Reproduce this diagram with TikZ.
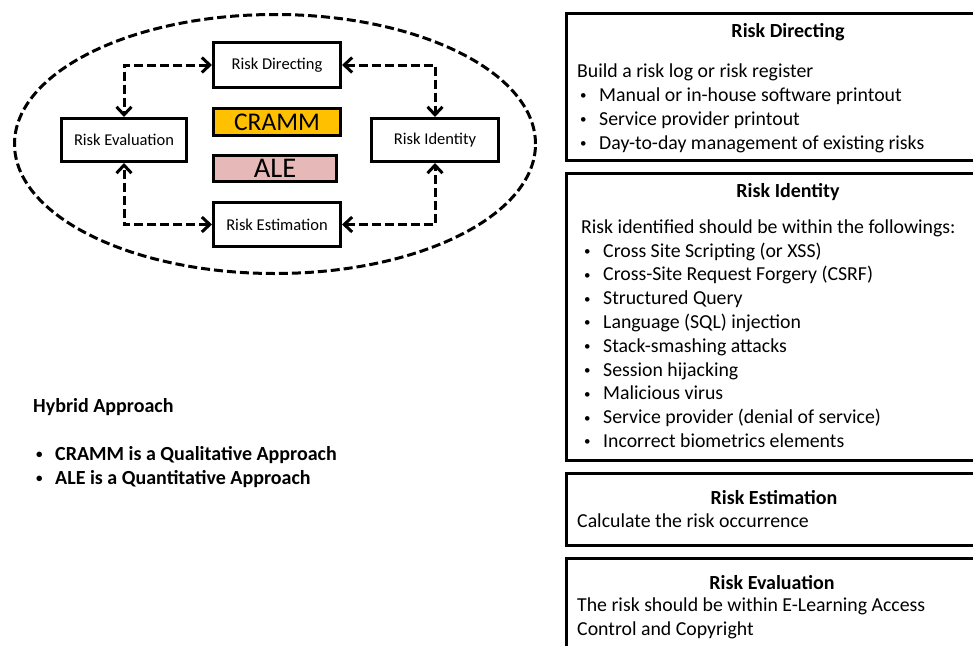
\documentclass[tikz,border=0pt]{standalone}
\usepackage{fontspec}
\setmainfont{Carlito}
\usetikzlibrary{arrows.meta,positioning}

% bullet line: small indent, small bullet, then the item text
\newcommand{\itm}[1]{\hspace*{3pt}\makebox[19pt][l]{\raisebox{1.5pt}{\fontsize{13}{13}\selectfont\textbullet}}#1}

\begin{document}
\begin{tikzpicture}[
    x=1pt, y=-1pt,
    stage/.style={
        rectangle,
        draw=black,
        line width=3pt,
        minimum width=127pt,
        minimum height=44pt,
        inner sep=0pt,
        font=\fontsize{16.5}{18}\selectfont
    },
    method/.style={
        rectangle,
        draw=black,
        line width=3pt,
        minimum width=127pt,
        minimum height=27pt,
        inner sep=0pt,
        font=\fontsize{25.5}{28}\selectfont
    },
    link/.style={
        <->,
        >={Straight Barb[length=8pt,width=15pt]},
        line width=3pt,
        dash pattern=on 9pt off 4pt
    },
    panel/.style={
        rectangle,
        draw=black,
        line width=3pt,
        anchor=north west,
        minimum width=440pt
    },
    heading/.style={
        anchor=base,
        inner sep=0pt,
        font=\fontsize{20}{24}\selectfont\bfseries
    },
    body/.style={
        anchor=north west,
        align=left,
        inner sep=0pt,
        execute at begin node=\strut,
        font=\fontsize{19.8}{23.8}\selectfont
    }
]
\useasboundingbox (0,0) rectangle (973,645);
\clip (0,0) rectangle (973,645);

% Risk cycle
\draw[line width=3pt, dash pattern=on 9pt off 4pt] (275,144) ellipse [x radius=260.5pt, y radius=129.5pt];

\node[stage, minimum height=45pt] (dir) at (277,65) {Risk Directing};
\node[method, fill={rgb,255:red,255;green,192;blue,0}, below=18pt of dir] (cramm) {CRAMM};
\node[method, fill={rgb,255:red,230;green,185;blue,184}, minimum width=123pt, minimum height=26pt,
      font=\fontsize{28.5}{30}\selectfont, below=17pt of cramm, xshift=-2pt] (ale) {ALE};
\node[stage, below=18pt of ale, xshift=2pt] (est) {Risk Estimation};
\node[stage, minimum width=125pt, minimum height=43pt] (eval) at (124,140) {Risk Evaluation};
\node[stage, minimum height=43pt] (ident) at (435,140) {Risk Identity};

% Connections
\draw[link] (dir.west) -| (eval.north);
\draw[link] (dir.east) -| (ident.north);
\draw[link] (est.west) -| (eval.south);
\draw[link] (est.east) -| (ident.south);

% Hybrid approach notes
\node[heading, anchor=base west] (hybrid) at (33,412) {Hybrid Approach};
\node[body, font=\fontsize{20}{24}\selectfont\bfseries] (kinds) at (33,446.2)
    {\itm{CRAMM is a Qualitative Approach}\\
     \itm{ALE is a Quantitative Approach}};

% Panels on the right
\node[panel, minimum height=147pt] (pdir) at (565,12) {};
\node[panel, minimum height=287pt] (pident) at (565,172) {};
\node[panel, minimum height=72pt] (pest) at (565,472) {};
\node[panel, minimum height=110pt] (peval) at (565,557) {};

\node[heading] (tdir) at (788,37) {Risk Directing};
\node[body, font=\fontsize{19.8}{24}\selectfont] (ldir) at (577,63.2)
    {Build a risk log or risk register\\
     \itm{Manual or in-house software printout}\\
     \itm{Service provider printout}\\
     \itm{Day-to-day management of existing risks}};

\node[heading] (tident) at (788,197) {Risk Identity};
\node[body] (lident) at (581,219.3)
    {Risk identified should be within the followings:\\
     \itm{Cross Site Scripting (or XSS)}\\
     \itm{Cross-Site Request Forgery (CSRF)}\\
     \itm{Structured Query}\\
     \itm{Language (SQL) injection}\\
     \itm{Stack-smashing attacks}\\
     \itm{Session hijacking}\\
     \itm{Malicious virus}\\
     \itm{Service provider (denial of service)}\\
     \itm{Incorrect biometrics elements}};

\node[heading] (test) at (774,504) {Risk Estimation};
\node[body] (lest) at (577,510.3) {Calculate the risk occurrence};

\node[heading] (teval) at (772,589) {Risk Evaluation};
\node[body, font=\fontsize{19.8}{24}\selectfont] (leval) at (577,597.2)
    {The risk should be within E-Learning Access\\
     Control and Copyright};

\end{tikzpicture}
\end{document}
